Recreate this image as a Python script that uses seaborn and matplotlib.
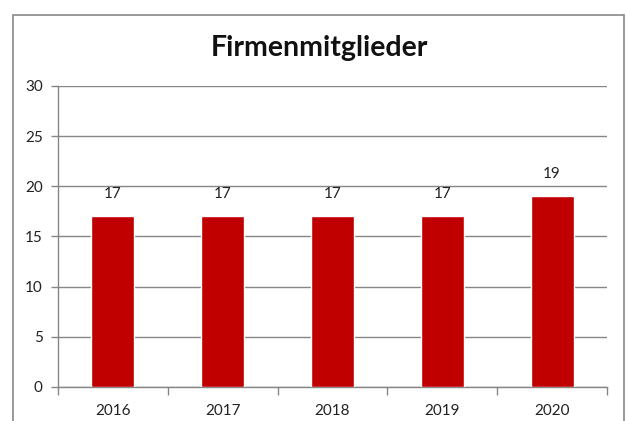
import matplotlib
matplotlib.use("Agg")
import matplotlib.pyplot as plt
import seaborn as sns
import pandas as pd
from matplotlib.patches import Rectangle

years = ["2016", "2017", "2018", "2019", "2020"]
members = [17, 17, 17, 17, 19]
yticks = [0, 5, 10, 15, 20, 25, 30]
title = "Firmenmitglieder"

sns.set_theme(style="white")
plt.rcParams['font.family'] = ['Lato', 'DejaVu Sans']

df = pd.DataFrame({"Jahr": years, "Mitglieder": members})

fig = plt.figure(figsize=(6.26, 4.21), dpi=100)
ax = fig.add_axes([58/626, 1-387/421, (607-58)/626, (387-86)/421])

sns.barplot(data=df, x="Jahr", y="Mitglieder", color="#C00000", width=0.39,
            saturation=1, ax=ax, zorder=3)

grid_c = "#868686"
ax.set_ylim(0, 30)
ax.set_xlim(-0.5, len(years) - 0.5)
ax.set_yticks(yticks)
ax.set_yticklabels([str(t) for t in yticks], fontsize=11, color="#222222")
ax.yaxis.grid(True, color=grid_c, linewidth=1, zorder=0)
ax.set_axisbelow(True)
ax.set_xlabel("")
ax.set_ylabel("")
ax.tick_params(axis="y", length=5, color=grid_c, width=1, pad=6, left=True)
ax.tick_params(axis="x", which="major", length=0, pad=12, labelsize=11, labelcolor="#222222")
ax.set_xticks([i - 0.5 for i in range(len(years) + 1)], minor=True)
ax.tick_params(axis="x", which="minor", length=6, color=grid_c, width=1, bottom=True)
for s in ["top", "right"]:
    ax.spines[s].set_visible(False)
for s in ["left", "bottom"]:
    ax.spines[s].set_color(grid_c)
    ax.spines[s].set_linewidth(1)

for i, v in enumerate(members):
    ax.annotate(str(v), (i, v), xytext=(0, 16), textcoords="offset points",
                ha="center", va="center", fontsize=11, color="#222222")

fig.text(319/626, 1-48/421, title, ha="center", va="center", fontsize=20.5,
         fontweight="bold", color="#111111")

fig.patches.append(Rectangle((13/626, -0.05), (624-13)/626, 1.05 - 15/421,
                             transform=fig.transFigure, fill=False,
                             edgecolor="#888888", linewidth=1.2))

fig.savefig("out.png", dpi=100)
